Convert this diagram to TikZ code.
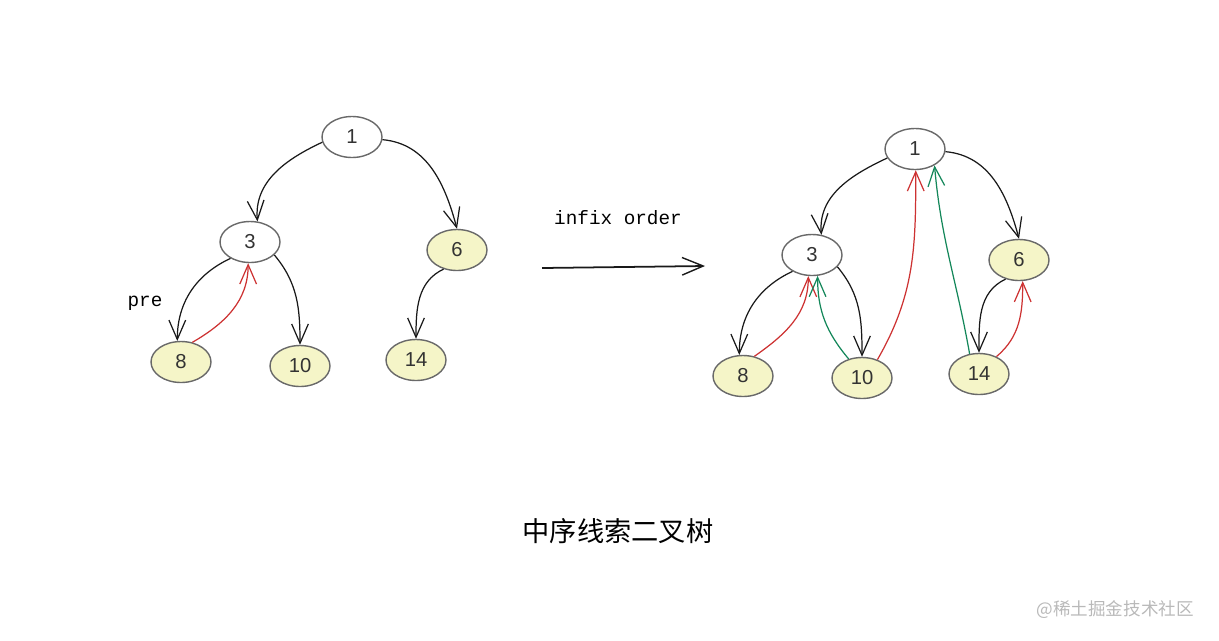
\documentclass[tikz,border=0pt]{standalone}
\usepackage{fontspec}
\setmainfont{Liberation Sans}
\setmonofont{Liberation Mono}
\newfontfamily\cjk{Noto Sans CJK SC}
\usepackage{tikz}
\usetikzlibrary{positioning,arrows.meta,shapes.geometric}

\definecolor{nodefill}{RGB}{245,245,200}
\definecolor{nodeline}{RGB}{105,105,105}
\definecolor{threadred}{RGB}{205,50,50}
\definecolor{threadgreen}{RGB}{20,135,90}
\definecolor{markgray}{RGB}{185,185,185}

\tikzset{
  tnode/.style={ellipse,draw=nodeline,line width=0.8pt,minimum width=1.2cm,minimum height=0.82cm,inner sep=0pt,font=\fontsize{11.5}{13}\selectfont,text=black!80},
  leaf/.style={tnode,fill=nodefill},
  link/.style={line width=0.7pt,black!90,-{Straight Barb[length=11pt,width=9.5pt,line width=0.7pt]}},
  redlink/.style={link,threadred},
  greenlink/.style={link,threadgreen}
}

\begin{document}
\begin{tikzpicture}[x=0.02cm,y=-0.02cm]
  \useasboundingbox(0,0) rectangle (1219,640);
  % tree before threading
  \node[tnode] (l1) at (352,137){1};
  \node[tnode] (l3) at (250,242){3};
  \node[leaf] (l6) at (457,250){6};
  \node[leaf] (l8) at (181,362){8};
  \node[leaf] (l10) at (300,366){10};
  \node[leaf] (l14) at (416,360){14};
  \node[font=\ttfamily\fontsize{11}{13}\selectfont] (pre) at (145,303){pre};
  \draw[link](l1.190) to[out=205,in=95] (l3.70);
  \draw[link](l1.-5) to[out=-5,in=105] (l6.north);
  \draw[link](l3.220) to[out=205,in=90] (l8.100);
  \draw[link](l3.-28) to[out=-50,in=90] (l10.north);
  \draw[link](l6.235) to[out=205,in=90] (l14.north);
  \draw[redlink](l8.60) to[out=30,in=-90] (l3.-95);
  % arrow in the middle
  \coordinate (arrowstart) at (542,268);
  \coordinate (arrowend) at (705,266);
  \node[font=\ttfamily\fontsize{11}{13}\selectfont] (infix) at (618,218){infix order};
  \draw[line width=1pt,black!90,-{Straight Barb[length=12pt,width=10pt,line width=0.8pt]}](arrowstart)--(arrowend);
  % threaded tree
  \node[tnode] (r1) at (915,149){1};
  \node[tnode] (r3) at (812,255){3};
  \node[leaf] (r6) at (1019,260){6};
  \node[leaf] (r8) at (743,376){8};
  \node[leaf] (r10) at (862,378){10};
  \node[leaf] (r14) at (979,374){14};
  \draw[link](r1.198) to[out=205,in=95] (r3.65);
  \draw[link](r1.-5) to[out=-5,in=105] (r6.north);
  \draw[link](r3.220) to[out=205,in=90] (r8.100);
  \draw[link](r3.-25) to[out=-50,in=90] (r10.north);
  \draw[link](r6.235) to[out=205,in=90] (r14.north);
  \draw[redlink](r8.60) to[out=35,in=-90] (r3.-100);
  \draw[greenlink](r10.125) to[out=130,in=-90] (r3.-75);
  \draw[redlink](r10.50) to[out=60,in=-90] (r1.-88);
  \draw[greenlink](r14.115) to[out=100,in=-85] (r1.-40);
  \draw[redlink](r14.45) to[out=40,in=-90] (r6.-80);
  % captions
  \node[font=\cjk\fontsize{15.5}{18}\selectfont] (title) at (618,531){中序线索二叉树};
  \node[font=\cjk\fontsize{10}{12}\selectfont,text=markgray,anchor=east] (mark) at (1200,610){@稀土掘金技术社区};
\end{tikzpicture}
\end{document}
